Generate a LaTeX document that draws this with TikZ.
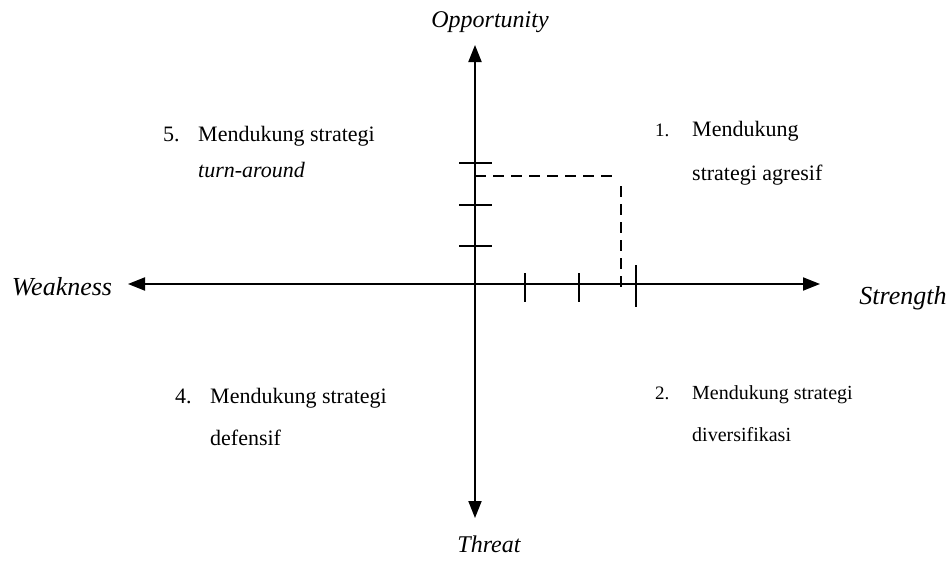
\documentclass[tikz,border=0pt]{standalone}
\usepackage{fontspec}
\setmainfont{Liberation Serif}
\usetikzlibrary{arrows.meta}
\begin{document}
\begin{tikzpicture}[x=1pt,y=-1pt,
  axis/.style={line width=2pt, {Triangle[length=17pt,width=13pt]}-{Triangle[length=17pt,width=13pt]}},
  tickln/.style={line width=2.3pt},
  dashln/.style={line width=2.5pt, dash pattern=on 11pt off 7pt},
  lab/.style={font=\fontsize{24}{28}\selectfont\itshape, inner sep=0pt},
  labbig/.style={font=\fontsize{26}{30}\selectfont\itshape, inner sep=0pt},
  txt/.style={font=\fontsize{22}{26}\selectfont, inner sep=0pt, anchor=base west},
  num/.style={font=\fontsize{22}{26}\selectfont, inner sep=0pt, anchor=base west},
  numsmall/.style={font=\fontsize{19}{22}\selectfont, inner sep=0pt, anchor=base west},
  txtsmall/.style={font=\fontsize{20}{24}\selectfont, inner sep=0pt, anchor=base west}]
\useasboundingbox (0,0) rectangle (951,562);
% axis end points
\coordinate (W) at (128,284);
\coordinate (E) at (820,284);
\coordinate (N) at (475,45);
\coordinate (S) at (475,518);
\draw[axis] (W) -- (E);
\draw[axis] (S) -- (N);
% axis labels
\node[lab] (opp) at (490,22) {Opportunity};
\node[lab] (thr) at (489,544) {Threat};
\node[labbig] (weak) at (62,287) {Weakness};
\node[labbig] (str) at (903,298) {Strength};
% ticks on vertical axis
\draw[tickln] (459,163) -- (492,163);
\draw[tickln] (459,205) -- (492,205);
\draw[tickln] (459,246) -- (492,246);
% ticks on horizontal axis
\draw[tickln] (525,273) -- (525,302);
\draw[tickln] (579,273) -- (579,302);
\draw[tickln] (636,265) -- (636,307);
% dashed position lines
\draw[dashln] (475,176) -- (617,176);
\draw[dashln] (621,186) -- (621,290);
% quadrant texts
\node[num] (n5) at (163,141) {5.};
\node[txt] (q5a) at (198,141) {Mendukung strategi};
\node[txt] (q5b) at (198,177) {\itshape turn-around};
\node[numsmall] (n1) at (655,136) {1.};
\node[txt] (q1a) at (692,136) {Mendukung};
\node[txt] (q1b) at (692,180) {strategi agresif};
\node[num] (n4) at (175,403) {4.};
\node[txt] (q4a) at (210,403) {Mendukung strategi};
\node[txt] (q4b) at (210,445) {defensif};
\node[numsmall] (n2) at (655,399) {2.};
\node[txtsmall] (q2a) at (692,399) {Mendukung strategi};
\node[txtsmall] (q2b) at (692,441) {diversifikasi};
\end{tikzpicture}
\end{document}
